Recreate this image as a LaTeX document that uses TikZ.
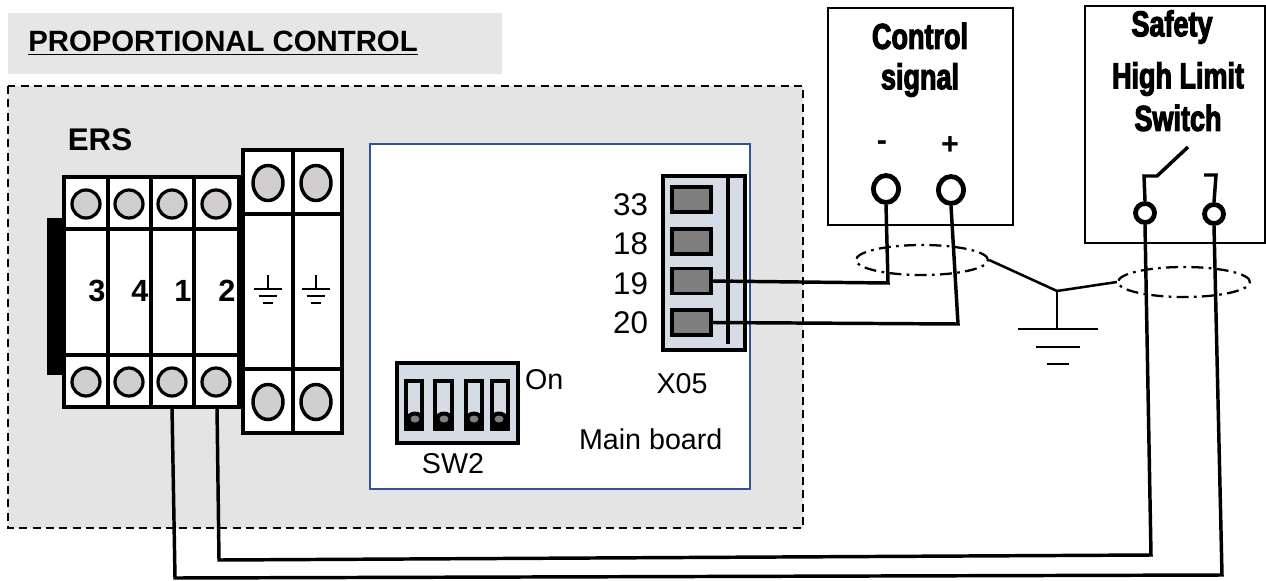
\documentclass[tikz,border=0pt]{standalone}
\usepackage{fontspec}
\setmainfont{Liberation Sans}
\newfontfamily\headfont[FakeStretch=0.75,FakeBold=3]{Liberation Sans Bold}
\usetikzlibrary{shapes.geometric}
\definecolor{panelgrey}{HTML}{E4E4E4}
\definecolor{titlegrey}{HTML}{E7E6E6}
\definecolor{boardblue}{HTML}{2F5597}
\definecolor{partblue}{HTML}{D6DCE5}
\definecolor{termgrey}{HTML}{7F7F7F}
\definecolor{screwgrey}{HTML}{D0CECE}
\tikzset{
  x=0.75pt,y=-0.75pt,
  lbl/.style={inner sep=0pt,outer sep=0pt,font=\fontsize{21.5}{24}\selectfont},
  num/.style={inner sep=0pt,outer sep=0pt,font=\fontsize{23.5}{26}\selectfont,anchor=east},
  bnum/.style={inner sep=0pt,font=\fontsize{23}{26}\selectfont\bfseries},
  head/.style={inner sep=0pt,font=\fontsize{27}{30}\selectfont\headfont},
  module/.style={draw=black,line width=2.6pt,fill=white},
  sep/.style={draw=black,line width=2.6pt},
  screw/.style={ellipse,draw=black,line width=2.4pt,fill=screwgrey,minimum width=28*0.75pt,minimum height=28*0.75pt,inner sep=0pt},
  bigscrew/.style={ellipse,draw=black,line width=2.6pt,fill=screwgrey,minimum width=30*0.75pt,minimum height=35*0.75pt,inner sep=0pt},
  terminal/.style={draw=black,line width=2.4pt,fill=termgrey,minimum width=39*0.75pt,minimum height=25*0.75pt,inner sep=0pt},
  port/.style={ellipse,draw=black,line width=3.6pt,fill=white,minimum width=25*0.75pt,minimum height=27*0.75pt,inner sep=0pt},
  sport/.style={ellipse,draw=black,line width=3.6pt,fill=white,minimum width=19*0.75pt,minimum height=19*0.75pt,inner sep=0pt},
  wire/.style={draw=black,line width=2.6pt},
  thin wire/.style={draw=black,line width=1.9pt},
  shield/.style={draw=black,line width=1.7pt,dash pattern=on 9pt off 4pt on 2pt off 4pt},
  dipslot/.style={draw=black,line width=2.4pt,fill=partblue},
}
\newcommand{\gndsym}[1]{%
  \draw[line width=2pt] (#1,275) -- (#1,289);
  \draw[line width=2pt] (#1-14,289) -- (#1+14,289);
  \draw[line width=2pt] (#1-9,296) -- (#1+9,296);
  \draw[line width=2pt] (#1-5,303) -- (#1+5,303);}
\newcommand{\dip}[3]{%
  \draw[dipslot] (#1,381) rectangle (#2,429);
  \fill[black] (#1,423) rectangle (#2,429);
  \fill[black] (#3,419) ellipse (9 and 7.5);
  \fill[termgrey] (#3,419) ellipse (4.5 and 3.5);}
\begin{document}
\begin{tikzpicture}
\useasboundingbox (0,0) rectangle (1266,581);
\fill[white] (0,0) rectangle (1266,581);
% title
\fill[titlegrey] (8,13) rectangle (502,74);
\node[inner sep=0pt,anchor=base west,font=\fontsize{22}{24}\selectfont\bfseries] (title) at (28,52) {\underline{PROPORTIONAL CONTROL}};
% panel
\draw[fill=panelgrey,line width=1.7pt,dash pattern=on 6pt off 4pt] (8,86) rectangle (803,528);
\node[inner sep=0pt,font=\fontsize{23.5}{26}\selectfont\bfseries] (ers) at (100,140) {ERS};
% ERS block
\fill[black] (47,218) rectangle (64,375);
\draw[module] (64,177) rectangle (240,407);
\fill[black] (237,177) rectangle (243,407);
\draw[sep] (64,229) -- (240,229) (64,355) -- (240,355);
\draw[sep] (108,177) -- (108,407) (151,177) -- (151,407) (194,177) -- (194,407);
\foreach \n/\xx in {a/86,b/129,c/172,d/216}{
  \node[screw] (top\n) at (\xx,204) {};
  \node[screw] (bot\n) at (\xx,382) {};
}
\node[bnum] (n3) at (97,291) {3};
\node[bnum] (n4) at (140,291) {4};
\node[bnum] (n1) at (183,291) {1};
\node[bnum] (n2) at (227,291) {2};
% earth block
\draw[module] (243,150) rectangle (342,433);
\draw[sep] (293,150) -- (293,433) (243,214) -- (342,214) (243,369) -- (342,369);
\foreach \n/\xx in {e/268,f/316}{
  \node[bigscrew] (top\n) at (\xx,183) {};
  \node[bigscrew] (bot\n) at (\xx,402) {};
  \gndsym{\xx}
}
% main board
\draw[draw=boardblue,line width=1.7pt,fill=white] (370,144) rectangle (750,489);
\node[lbl,anchor=west] (board) at (579,439) {Main board};
\draw[draw=black,line width=2.8pt,fill=partblue] (663,176) rectangle (745,350);
\node[terminal] (t33) at (691.5,199.5) {};
\node[terminal] (t18) at (691.5,241.5) {};
\node[terminal] (t19) at (691.5,281) {};
\node[terminal] (t20) at (691.5,322.5) {};
\node[num] (l33) at (648,205) {33};
\node[num] (l18) at (648,244) {18};
\node[num] (l19) at (648,284) {19};
\node[num] (l20) at (648,323) {20};
\node[lbl] (x05) at (682,384) {X05};
% SW2
\draw[draw=black,line width=2.6pt,fill=partblue] (397,363) rectangle (518,443);
\dip{406}{422}{415}
\dip{435}{452}{444}
\dip{466}{482}{474}
\dip{492}{508}{499}
\node[lbl,anchor=west] (on) at (525,380) {On};
\node[lbl] (sw2) at (453,464) {SW2};
% control box
\draw[line width=1.8pt,fill=white] (828,8) rectangle (1013,225);
\node[head] (c1) at (920,36) {Control};
\node[head] (c2) at (920,80) {signal};
\node[bnum] (minus) at (882,146) {-};
\node[bnum] (plus) at (950,146) {+};
% safety box
\draw[line width=1.8pt,fill=white] (1085,6) -- (1265.5,6) -- (1265.5,243) -- (1085,243) -- cycle;
\node[head] (s1) at (1172,27) {Safety};
\node[head] (s2) at (1178,79) {High Limit};
\node[head] (s3) at (1178,118) {Switch};
% switch
\coordinate (sa1) at (1144,176);
\coordinate (sa2) at (1157,176);
\coordinate (sa3) at (1188,147);
\coordinate (sb1) at (1216,175);
\coordinate (sb2) at (1204,175);
% wires
\coordinate (w19) at (888,283);
\coordinate (w20) at (958,324);
\coordinate (ca) at (1151,555);
\coordinate (cb) at (1222,575);
\coordinate (da) at (219,560);
\coordinate (db) at (175,578);
\coordinate (ea) at (217,407);
\coordinate (eb) at (172,407);
% ports
\node[port] (pm) at (886,189) {};
\node[port] (pp) at (951,190) {};
\node[sport] (sa) at (1145,213) {};
\node[sport] (sb) at (1214,214) {};
\draw[wire] (sa.north) -- (sa1) -- (sa2) -- (sa3);
\draw[wire] (sb.north) -- (sb1) -- (sb2);
\draw[wire] (t19.east) -- (w19) -- (pm.south);
\draw[wire] (t20.east) -- (w20) -- (pp.south);
\draw[line width=2.8pt] (728,176) -- (728,344);
\draw[wire] (sa.south) -- (ca) -- (da) -- (ea);
\draw[wire] (sb.south) -- (cb) -- (db) -- (eb);
% shields
\node[ellipse,shield,minimum width=132*0.75pt,minimum height=30*0.75pt,inner sep=0pt] (sh1) at (922,260) {};
\node[ellipse,shield,minimum width=132*0.75pt,minimum height=30*0.75pt,inner sep=0pt] (sh2) at (1184,282) {};
% ground
\coordinate (gj) at (1057,291);
\coordinate (g1) at (1057,329);
\draw[thin wire] (sh1.east) -- (gj) -- (sh2.west);
\draw[thin wire] (gj) -- (g1);
\draw[thin wire] (1018,329) -- (1098,329);
\draw[thin wire] (1036,347) -- (1080,347);
\draw[thin wire] (1047,364) -- (1069,364);
\end{tikzpicture}
\end{document}
